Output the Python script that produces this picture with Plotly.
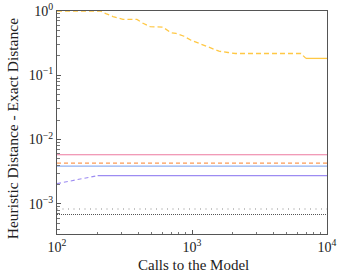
import plotly.graph_objects as go

# ---- data ----
yellow_x = [100, 209, 230, 260, 308, 391, 430, 489, 610, 698, 761, 873, 984, 1127, 1270, 1431, 1585, 1849, 2100, 6410, 6980]
yellow_y = [1.0, 1.0, 0.91, 0.82, 0.74, 0.74, 0.65, 0.57, 0.56, 0.46, 0.447, 0.405, 0.351, 0.312, 0.287, 0.255, 0.237, 0.226, 0.218, 0.218, 0.183]
yellow_solid_x = [6980, 10000]
yellow_solid_y = [0.183, 0.183]

pink_x = [100, 10000]
pink_y = [5.8e-3, 5.8e-3]
orange_x = [100, 10000]
orange_y = [4.3e-3, 4.3e-3]
blue_x = [100, 10000]
blue_y = [3.85e-3, 3.85e-3]
purple_dash_x = [100, 200]
purple_dash_y = [2.06e-3, 2.74e-3]
purple_x = [200, 10000]
purple_y = [2.74e-3, 2.74e-3]
gray_sparse_x = [100, 10000]
gray_sparse_y = [8.3e-4, 8.3e-4]
gray_dense_x = [100, 10000]
gray_dense_y = [6.8e-4, 6.8e-4]

x_ticks = [100, 1000, 10000]
x_ticktext = ["10<sup>2</sup>", "10<sup>3</sup>", "10<sup>4</sup>"]
y_ticks = [1e-3, 1e-2, 1e-1, 1]
y_ticktext = ["10<sup>−3</sup>", "10<sup>−2</sup>", "10<sup>−1</sup>", "10<sup>0</sup>"]
x_title = "Calls to the Model"
y_title = "Heuristic Distance - Exact Distance"

x_minor = [m * 10 ** e for e in (2, 3) for m in range(2, 10)]
y_minor = [m * 10 ** e for e in (-4, -3, -2, -1) for m in range(2, 10)]

fig = go.Figure()

def add(x, y, color, dash="solid", width=1.1):
    fig.add_trace(go.Scatter(x=x, y=y, mode="lines",
                             line=dict(color=color, dash=dash, width=width),
                             showlegend=False, hoverinfo="skip"))

add(pink_x, pink_y, "#ec7a9f")
add(orange_x, orange_y, "#fb9a55", dash="4px,3px")
add(blue_x, blue_y, "#92b2f2")
add(purple_dash_x, purple_dash_y, "#9d8cf2", dash="4px,3px")
add(purple_x, purple_y, "#9d8cf2")
add(gray_sparse_x, gray_sparse_y, "#8a8a8a", dash="1px,4.5px")
add(gray_dense_x, gray_dense_y, "#555555", dash="1px,1px")
add(yellow_x, yellow_y, "#ffc845", dash="5px,3px", width=1.3)
add(yellow_solid_x, yellow_solid_y, "#ffc845", width=1.3)

font = "Liberation Serif, DejaVu Serif, serif"

fig.update_layout(
    width=342, height=275,
    margin=dict(l=57, r=15, t=10.5, b=41),
    plot_bgcolor="white", paper_bgcolor="white",
    font=dict(family=font, size=13, color="#222222"),
    xaxis=dict(
        type="log", range=[2, 4], automargin=False,
        tickvals=x_ticks, ticktext=x_ticktext,
        ticks="inside", ticklen=4, tickwidth=0.8, tickcolor="#555555",
        minor=dict(tickvals=x_minor, ticks="inside", ticklen=2.5, tickwidth=0.6, tickcolor="#777777", showgrid=False),
        showgrid=False, zeroline=False,
        showline=True, linecolor="#555555", linewidth=1, mirror=True,
        tickfont=dict(size=14),
    ),
    yaxis=dict(
        type="log", range=[-3.47, 0], automargin=False,
        tickvals=y_ticks, ticktext=y_ticktext,
        ticks="inside", ticklen=4, tickwidth=0.8, tickcolor="#555555",
        minor=dict(tickvals=y_minor, ticks="inside", ticklen=2.5, tickwidth=0.6, tickcolor="#777777", showgrid=False),
        showgrid=False, zeroline=False,
        showline=True, linecolor="#555555", linewidth=1, mirror=True,
        tickfont=dict(size=14),
    ),
    annotations=[
        dict(text=x_title, xref="paper", yref="paper", x=0.507, y=-0.139,
             xanchor="center", yanchor="middle", showarrow=False, font=dict(size=15)),
        dict(text=y_title, xref="paper", yref="paper", x=-0.167, y=0.474, textangle=-90,
             xanchor="center", yanchor="middle", showarrow=False, font=dict(size=15.5)),
    ],
)

fig.write_html("out.html", config={"displayModeBar": False},
               post_script="document.body.style.margin='0px';")
